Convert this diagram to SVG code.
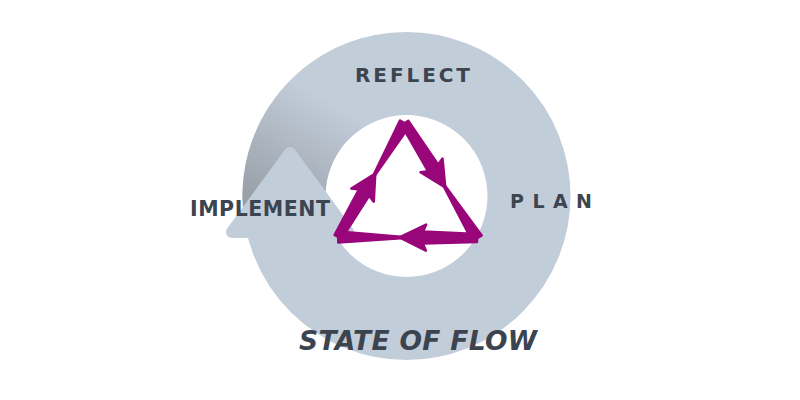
<svg xmlns="http://www.w3.org/2000/svg" width="800" height="400" viewBox="0 0 800 400">
  <defs>
    <style>
      .ring { fill: none; stroke: #c2cdda; stroke-width: 83; }
      .gray { fill: #c2cdda; stroke: #c2cdda; stroke-width: 12; stroke-linejoin: round; }
      .purple { fill: #99067a; stroke: #99067a; stroke-width: 2.5; stroke-linejoin: round; }
      .lbl { font-family: "DejaVu Sans", "Liberation Sans", sans-serif; font-weight: 700; fill: #3c4450; }
    </style>
    <linearGradient id="shade" gradientUnits="userSpaceOnUse" x1="314" y1="92" x2="252" y2="198">
      <stop offset="0" stop-color="#c2cdda"/>
      <stop offset="1" stop-color="#99a0a8"/>
    </linearGradient>
    <g id="side">
      <path d="M0,-4 L53,-6 L50,-13 L76,0 L50,13 L53,6 L0,4 Z"/>
      <path d="M75,-0.8 L136,-5.5 L136,5.5 L75,0.8 Z"/>
    </g>
  </defs>
  <rect width="800" height="400" fill="#ffffff"/>

  <g id="cycle-ring">
    <circle class="ring" cx="406.5" cy="196" r="122.5"/>
    <path d="M287.6,225.6 A122.5,122.5 0 0 1 374.8,77.7" fill="none" stroke="url(#shade)" stroke-width="83"/>
    <polygon class="gray" points="290,153 348,232 232,232"/>
  </g>

  <g id="flow-triangle" class="purple">
    <use href="#side" transform="translate(405,123) rotate(58)"/>
    <use href="#side" transform="translate(477,238) rotate(180.4) scale(1.02,1)"/>
    <use href="#side" transform="translate(338,237) rotate(-59.6) scale(0.97,1)"/>
  </g>

  <g id="reflect"><text class="lbl" x="355" y="82" font-size="20" textLength="115" lengthAdjust="spacing">REFLECT</text></g>
  <g id="plan"><text class="lbl" x="510" y="208" font-size="19" textLength="82" lengthAdjust="spacing">PLAN</text></g>
  <g id="implement"><text class="lbl" x="190" y="216" font-size="20.5" textLength="140" lengthAdjust="spacing">IMPLEMENT</text></g>
  <g id="state-of-flow"><text class="lbl" x="299" y="350" font-size="26.5" font-style="italic" textLength="238" lengthAdjust="spacing">STATE OF FLOW</text></g>
</svg>
